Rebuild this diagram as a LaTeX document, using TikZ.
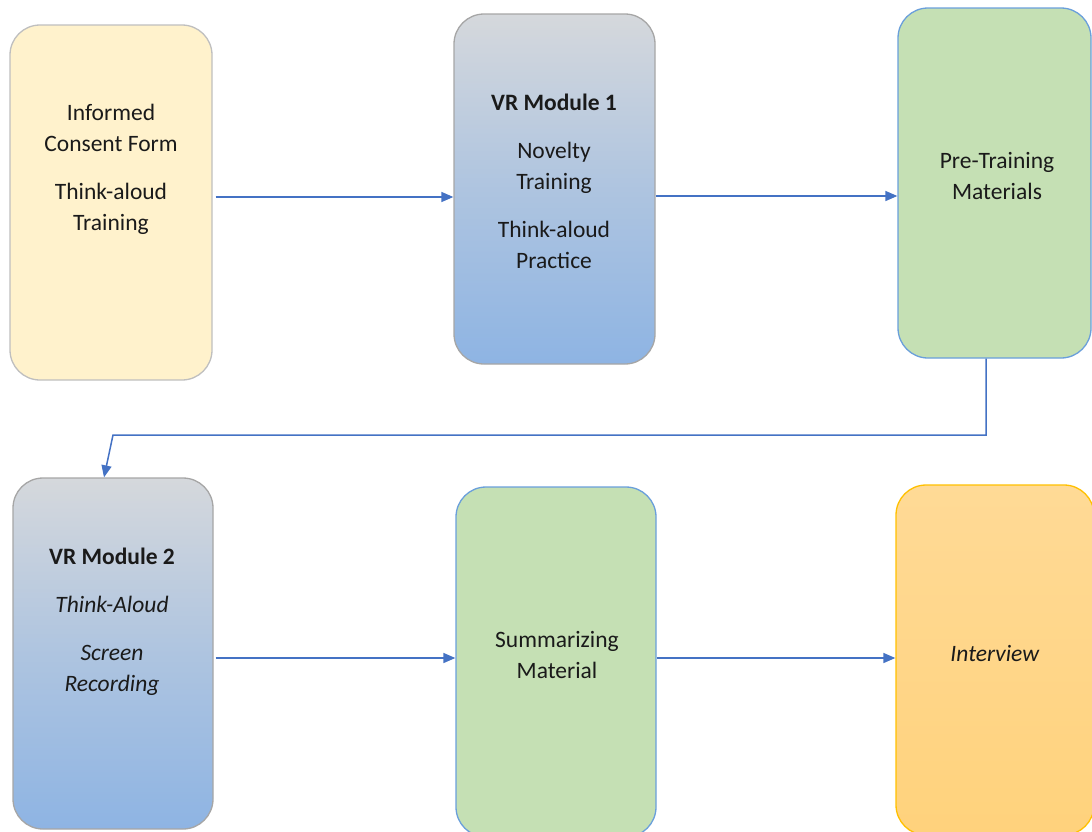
\documentclass[tikz,border=0pt]{standalone}
\usepackage{fontspec}
\setmainfont{Carlito}
\usetikzlibrary{arrows.meta}
\definecolor{arrowblue}{HTML}{4472C4}
\definecolor{yellowfill}{HTML}{FFF2CC}
\definecolor{yellowline}{HTML}{BFBFBF}
\definecolor{greyline}{HTML}{A6A6A6}
\definecolor{vrtop}{HTML}{D5D8DC}
\definecolor{vrbottom}{HTML}{8EB4E3}
\definecolor{greenfill}{HTML}{C5E0B4}
\definecolor{greenline}{HTML}{6A9FDB}
\definecolor{orangetop}{HTML}{FFDA96}
\definecolor{orangebottom}{HTML}{FFD27C}
\definecolor{orangeline}{HTML}{FFC000}
\definecolor{textgrey}{HTML}{1A1A1A}
\tikzset{
  x=1pt, y=-1pt,
  box/.style={rounded corners=30pt, line width=1.3pt, inner sep=0pt},
  yellowbox/.style={box, draw=yellowline, fill=yellowfill},
  vrbox/.style={box, draw=greyline, top color=vrtop, bottom color=vrbottom, middle color=vrbottom!55!vrtop},
  greenbox/.style={box, draw=greenline, fill=greenfill},
  orangebox/.style={box, draw=orangeline, top color=orangetop, bottom color=orangebottom},
  txt/.style={align=center, font=\fontsize{23.5pt}{31pt}\selectfont, text=textgrey, inner sep=0pt},
  flow/.style={draw=arrowblue, line width=1.5pt, -{Triangle[length=12pt,width=10pt]}}
}
\begin{document}
\begin{tikzpicture}
\useasboundingbox (0,0) rectangle (1092,831);
% boxes
\node[yellowbox, minimum width=202pt, minimum height=355pt] (b1) at (111,202.5) {};
\node[vrbox, minimum width=201pt, minimum height=350pt] (b2) at (554.5,189) {};
\node[greenbox, minimum width=193pt, minimum height=350pt] (b3) at (994.5,183) {};
\node[vrbox, minimum width=200pt, minimum height=351pt] (b4) at (113,653.5) {};
\node[greenbox, minimum width=200pt, minimum height=350pt] (b5) at (556,662) {};
\node[orangebox, minimum width=198pt, minimum height=350pt] (b6) at (995,660) {};
% texts
\node[txt] (t1) at (111,169) {Informed\\Consent Form\\[17pt]Think-aloud\\Training};
\node[txt] (t2) at (554,181) {\textbf{VR Module 1}\\[17pt]Novelty\\Training\\[17pt]Think-aloud\\Practice};
\node[txt] (t3) at (997,176) {Pre-Training\\Materials};
\node[txt] (t4) at (112,622) {\textbf{VR Module 2}\\[17pt]\textit{Think-Aloud}\\[17pt]\textit{Screen}\\\textit{Recording}};
\node[txt] (t5) at (557,655) {Summarizing\\Material};
\node[txt] (t6) at (995,653) {\textit{Interview}};
% connectors
\coordinate (r1) at (0,197);
\coordinate (r2) at (0,196);
\coordinate (r3) at (0,658);
\coordinate (c1) at (986,435);
\coordinate (c2) at (113,435);
\coordinate (c3) at (104,0);
\draw[flow] ([xshift=3pt]b1.east |- r1) -- (b2.west |- r1);
\draw[flow] (b2.east |- r2) -- (b3.west |- r2);
\draw[flow] (b3.south -| c1) -- (c1) -- (c2) -- (b4.north -| c3);
\draw[flow] ([xshift=2pt]b4.east |- r3) -- (b5.west |- r3);
\draw[flow] (b5.east |- r3) -- (b6.west |- r3);
\end{tikzpicture}
\end{document}
